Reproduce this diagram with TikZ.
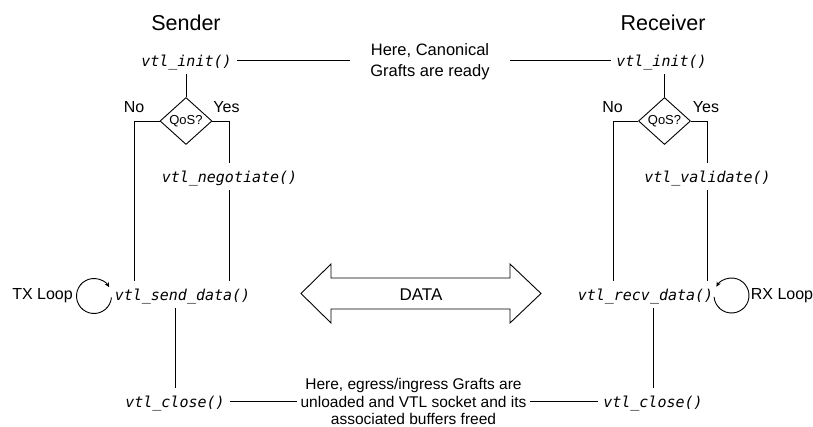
\documentclass[tikz,border=0pt]{standalone}
\usepackage{fontspec}
\setmainfont{Liberation Sans}
\newfontfamily\codefont{DejaVu Sans Mono}
\usetikzlibrary{shapes.geometric,arrows.meta,calc}

\begin{document}
\begin{tikzpicture}[x=1pt,y=-1pt,
  line width=0.9pt,
  code/.style={anchor=base, font=\codefont\itshape\fontsize{15}{18}\selectfont,
    inner xsep=5pt, inner ysep=0pt, text height=19pt, text depth=7pt},
  title/.style={font=\fontsize{21.5}{25}\selectfont, inner sep=0pt},
  tag/.style={font=\fontsize{16}{19}\selectfont, inner sep=0pt},
  decision/.style={diamond, draw, minimum width=52pt, minimum height=47pt,
    inner sep=0pt, font=\fontsize{13}{15}\selectfont},
  note/.style={align=center, inner sep=0pt},
  looparrow/.style={-{Stealth[length=5pt,width=4.5pt]}},
]
\useasboundingbox (0,0) rectangle (813,427);

% column titles
\node[title] (stitle) at (186,23) {Sender};
\node[title] (rtitle) at (663,23) {Receiver};

% sender side
\node[code] (si) at (186.5,66.5) {vtl\_init()};
\node[decision] (sq) at (186,121) {QoS?};
\node[code] (sn) at (229.5,182.5) {vtl\_negotiate()};
\node[code] (sd) at (182.5,300.5) {vtl\_send\_data()};
\node[code] (sc) at (175,407.5) {vtl\_close()};
\node[tag] (sno) at (134,107) {No};
\node[tag] (syes) at (226.5,107) {Yes};
\node[tag] (txl) at (42.5,296) {TX Loop};

% receiver side
\node[code] (ri) at (661.5,66.5) {vtl\_init()};
\node[decision] (rq) at (664.5,121) {QoS?};
\node[code] (rv) at (707.5,182.5) {vtl\_validate()};
\node[code] (rd) at (645.5,300.5) {vtl\_recv\_data()};
\node[code] (rc) at (653,407.5) {vtl\_close()};
\node[tag] (rno) at (612.5,107) {No};
\node[tag] (ryes) at (706,107) {Yes};
\node[tag] (rxl) at (782,296) {RX Loop};

% shared notes
\node[note, minimum width=160pt, font=\fontsize{16.5}{21}\selectfont] (tl) at (430,61.5)
  {Here, Canonical\\Grafts are ready};
\node[note, inner xsep=3pt, font=\fontsize{15.5}{17.5}\selectfont] (bl) at (413.5,401.5)
  {Here, egress/ingress Grafts are\\unloaded and VTL socket and its\\associated buffers freed};

% sender flow
\draw (sq.north |- si.south) -- (sq.north);
\draw (sq.west) -| ([xshift=-48.5pt]sd.north);
\draw (sq.east) -| (sn.north);
\draw (sn.south) -- (sn.south |- sd.north);
\draw (sc.north |- sd.south) -- (sc.north);

% receiver flow
\draw (rq.north |- ri.south) -- (rq.north);
\draw (rq.west) -| ([xshift=-32.5pt]rd.north);
\draw (rq.east) -| (rv.north);
\draw (rv.south) -- (rv.south |- rd.north);
\draw (rc.north |- rd.south) -- (rc.north);

% links through the notes
\draw (si.east) -- (si.east -| tl.west);
\draw (tl.east |- ri.west) -- (ri.west);
\draw (sc.east) -- (sc.east -| bl.west);
\draw (bl.east |- rc.west) -- (rc.west);

% data exchange arrow
\draw (301,293.5) -- (331,264) -- (331,278) -- (510,278) -- (510,264)
  -- (541,293.5) -- (510,323) -- (510,309) -- (331,309) -- (331,323) -- cycle;
\node[tag, font=\fontsize{17}{20}\selectfont] (data) at (421,295) {DATA};

% self loops
\coordinate (txc) at (94,296);
\coordinate (rxc) at (731.5,295.5);
\draw[looparrow] ([shift={(5:17.5)}]txc) arc[start angle=5, end angle=330, radius=17.5];
\draw[looparrow] ([shift={(175:17.5)}]rxc) arc[start angle=175, end angle=-150, radius=17.5];
\end{tikzpicture}
\end{document}
